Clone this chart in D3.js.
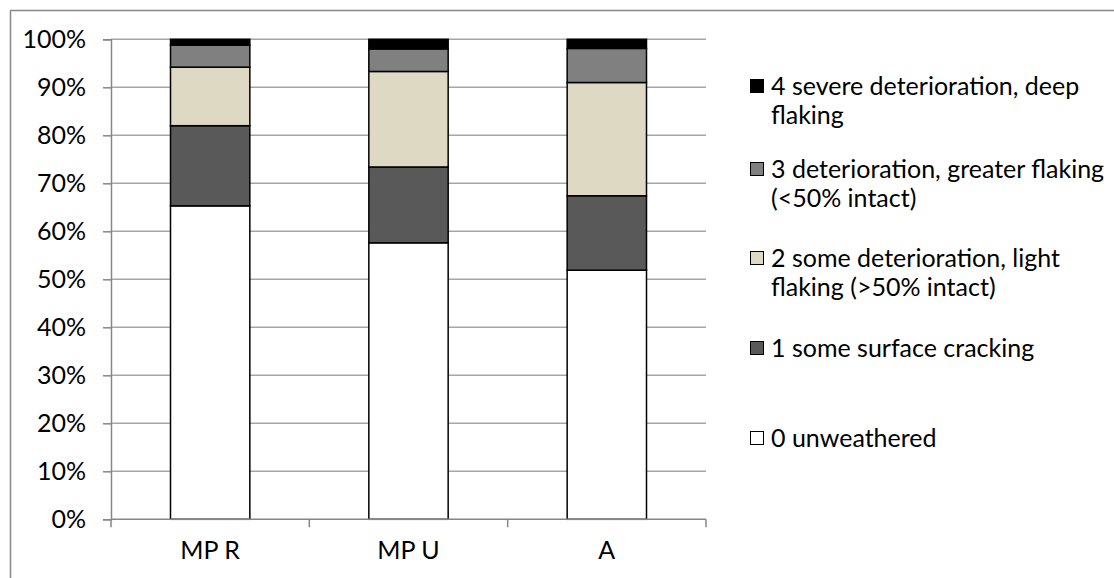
<!DOCTYPE html>
<meta charset="utf-8">
<style>
    body { margin: 0; background: #fff; }
    text { font-family: Lato, "Liberation Sans", sans-serif; fill: #000; }
    .grid line { stroke: #a6a6a6; stroke-width: 1.5px; }
    .axis path, .axis line { stroke: #868686; stroke-width: 1.5px; }
</style>
<body>
<script src="https://cdn.jsdelivr.net/npm/d3@7"></script>
<script>
    // data
    var sites = ["MP R", "MP U", "A"];
    var stage0 = [65.3, 57.6, 51.9];
    var stage1 = [16.7, 15.8, 15.5];
    var stage2 = [12.2, 19.9, 23.6];
    var stage3 = [4.6, 4.7, 7.1];
    var stage4 = [1.2, 2.0, 1.9];
    var yTicks = [0, 10, 20, 30, 40, 50, 60, 70, 80, 90, 100];
    var stageNames = [
        ["0 unweathered"],
        ["1 some surface cracking"],
        ["2 some deterioration, light", "flaking (>50% intact)"],
        ["3 deterioration, greater flaking", "(<50% intact)"],
        ["4 severe deterioration, deep", "flaking"]
    ];
    var stageColors = ["#ffffff", "#595959", "#ddd9c3", "#808080", "#000000"];

    var keys = ["s0", "s1", "s2", "s3", "s4"];
    var rows = sites.map(function(s, i) {
        return {site: s, s0: stage0[i], s1: stage1[i], s2: stage2[i], s3: stage3[i], s4: stage4[i]};
    });

    var W = 1114, H = 578;
    var plotL = 111, plotR = 706, plotT = 39.3, plotB = 519.3;
    var fontSize = 25;

    var svg = d3.select("body").append("svg")
        .attr("width", W)
        .attr("height", H);

    // chart frame
    svg.append("rect")
        .attr("x", 10.5).attr("y", 10.5)
        .attr("width", W + 20).attr("height", H + 20)
        .attr("fill", "none")
        .attr("stroke", "#888")
        .attr("stroke-width", 1.5);

    var x = d3.scaleBand().domain(sites).range([plotL, plotR]).paddingInner(0.6).paddingOuter(0.3);
    var xb = d3.scaleBand().domain(sites).range([plotL, plotR]);
    var y = d3.scaleLinear().domain([0, 100]).range([plotB, plotT]);

    // gridlines
    svg.append("g").attr("class", "grid")
        .selectAll("line").data(yTicks.filter(function(d) { return d > 0; }))
        .enter().append("line")
        .attr("x1", plotL).attr("x2", plotR)
        .attr("y1", function(d) { return y(d); })
        .attr("y2", function(d) { return y(d); });

    var series = d3.stack().keys(keys)(rows);

    svg.append("g").selectAll("g")
        .data(series).enter().append("g")
        .attr("fill", function(d, i) { return stageColors[i]; })
        .selectAll("rect")
        .data(function(d) { return d; })
        .enter().append("rect")
        .attr("x", function(d) { return x(d.data.site); })
        .attr("width", x.bandwidth())
        .attr("y", function(d) { return y(d[1]); })
        .attr("height", function(d) { return y(d[0]) - y(d[1]); })
        .attr("stroke", "#000")
        .attr("stroke-width", 1.5);

    // y axis
    var yAxis = svg.append("g").attr("class", "axis")
        .attr("transform", "translate(" + plotL + ",0)")
        .call(d3.axisLeft(y).tickValues(yTicks).tickSize(8).tickPadding(17)
            .tickFormat(function(d) { return d + "%"; }));
    yAxis.selectAll("text").style("font-size", fontSize + "px");

    // x axis
    var xAxis = svg.append("g").attr("class", "axis")
        .attr("transform", "translate(0," + plotB + ")")
        .call(d3.axisBottom(xb).tickSize(0).tickPadding(22));
    xAxis.select(".domain").remove();
    xAxis.append("line").attr("x1", plotL).attr("x2", plotR);
    xAxis.selectAll(".sep").data(sites.concat([null]))
        .enter().append("line")
        .attr("class", "sep")
        .attr("x1", function(d, i) { return plotL + i * xb.bandwidth(); })
        .attr("x2", function(d, i) { return plotL + i * xb.bandwidth(); })
        .attr("y1", 0).attr("y2", 8);
    xAxis.selectAll("text").style("font-size", fontSize + "px");

    // legend, top entry is the last stage
    var legendY = [438, 348, 258, 169, 86];
    var legend = svg.append("g").selectAll("g")
        .data(stageNames).enter().append("g")
        .attr("transform", function(d, i) { return "translate(750," + legendY[i] + ")"; });

    legend.append("rect")
        .attr("x", 0.5).attr("y", -6.5)
        .attr("width", 13).attr("height", 13)
        .attr("fill", function(d, i) { return stageColors[i]; })
        .attr("stroke", "#000").attr("stroke-width", 1);

    legend.selectAll("text")
        .data(function(d) { return d; })
        .enter().append("text")
        .attr("x", 21)
        .attr("y", function(d, j) { return j * 29; })
        .attr("dy", "0.35em")
        .style("font-size", fontSize + "px")
        .text(function(d) { return d; });
</script>
